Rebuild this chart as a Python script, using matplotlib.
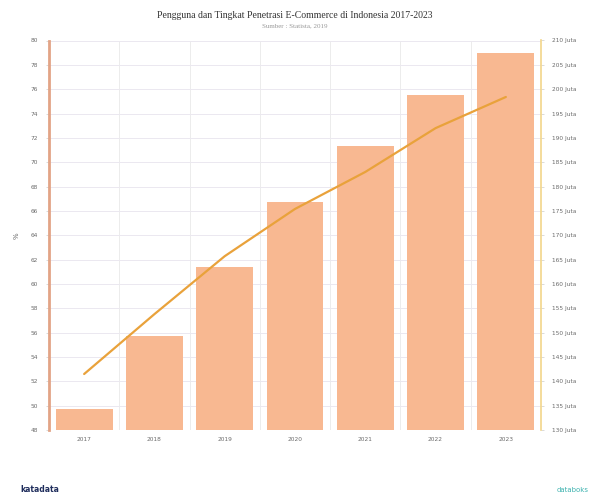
import matplotlib.pyplot as plt
import numpy as np

# data
years = ["2017", "2018", "2019", "2020", "2021", "2022", "2023"]
penetration_pct = [49.7, 55.7, 61.4, 66.7, 71.3, 75.5, 79.0]
users_juta = [141.5, 153.8, 165.7, 175.4, 183.0, 192.0, 198.4]

left_ticks = list(range(48, 81, 2))
right_ticks = list(range(130, 211, 5))

BAR = "#F8B891"
LINE = "#E9A23B"
TXT = "#6b6b6b"

fig = plt.figure(figsize=(5.89, 4.97), dpi=100)
ax = fig.add_axes([49 / 589, 1 - 430 / 497, (541 - 49) / 589, (430 - 40.5) / 497])
x = np.arange(len(years))

ax.bar(x, penetration_pct, width=0.81, color=BAR, zorder=2)
ax.set_xlim(-0.5, len(years) - 0.5)
ax.set_ylim(48, 80)
ax.set_yticks(left_ticks)
ax.set_xticks(x)
ax.set_xticklabels(years)
ax.set_xticks(x[:-1] + 0.5, minor=True)
ax.grid(axis="y", color="#ebe8f0", linewidth=0.7, zorder=0)
ax.grid(axis="x", which="minor", color="#ececec", linewidth=0.7, zorder=0)
ax.tick_params(axis="x", which="both", length=0, labelsize=4.2, labelcolor=TXT, pad=5)
ax.tick_params(axis="y", length=2, width=0.5, color="#cccccc", labelsize=4.2, labelcolor=TXT, pad=6)
ax.set_ylabel("%", fontsize=5, color=TXT, labelpad=8)
for s in ["top", "right", "bottom"]:
    ax.spines[s].set_visible(False)
ax.spines["left"].set_color("#E2A486")
ax.spines["left"].set_linewidth(2)

ax2 = ax.twinx()
ax2.plot(x, users_juta, color=LINE, linewidth=1.6, zorder=3, solid_capstyle="round")
ax2.set_ylim(130, 210)
ax2.set_yticks(right_ticks)
ax2.set_yticklabels([f"{v} Juta" for v in right_ticks])
ax2.tick_params(axis="y", length=2, width=0.5, color="#cccccc", labelsize=4.2, labelcolor=TXT, pad=6)
for s in ["top", "left", "bottom"]:
    ax2.spines[s].set_visible(False)
ax2.spines["right"].set_color("#F2D58A")
ax2.spines["right"].set_linewidth(1.2)

fig.text(0.5, 1 - 15 / 497, "Pengguna dan Tingkat Penetrasi E-Commerce di Indonesia 2017-2023",
         ha="center", va="center", fontsize=7, family="Liberation Serif", color="#333333")
fig.text(0.5, 1 - 26 / 497, "Sumber : Statista, 2019",
         ha="center", va="center", fontsize=5, family="Liberation Serif", color="#999999")

fig.text(20 / 589, 1 - 490 / 497, "katadata", ha="left", va="center", fontsize=5.5,
         fontweight="bold", color="#1f2d5c")
fig.text(589 / 589, 1 - 490 / 497, "databoks", ha="right", va="center", fontsize=5,
         color="#3fb3b0")

fig.savefig("out.png", dpi=100, facecolor="white")
